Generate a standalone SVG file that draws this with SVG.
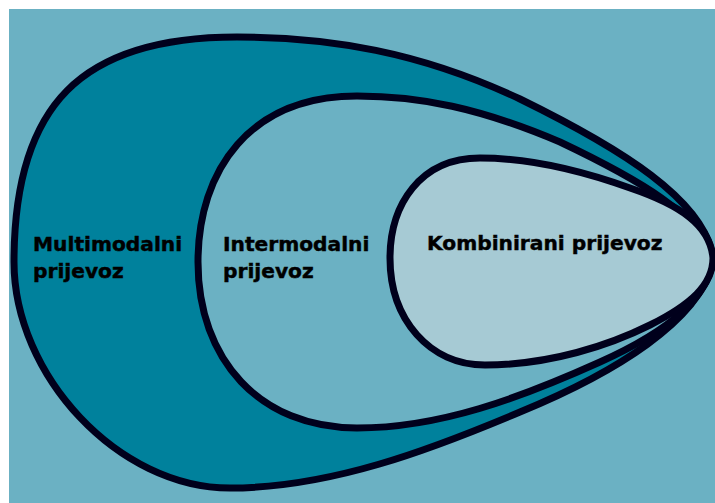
<svg xmlns="http://www.w3.org/2000/svg" width="715" height="503" viewBox="0 0 715 503">
  <style>
    .shape { stroke: #00001c; stroke-width: 7; stroke-linejoin: round; }
    .outer { fill: #00819c; }
    .middle { fill: #6bb1c3; }
    .inner { fill: #a6cad4; }
    .label { font-family: "DejaVu Sans", Verdana, sans-serif; font-weight: bold; font-size: 20.2px; fill: #000000; stroke: #000000; stroke-width: 0.45px; }
  </style>
  <rect x="0" y="0" width="715" height="503" fill="#ffffff"/>
  <rect x="9" y="9" width="706" height="494" fill="#6bb1c3"/>
  <g id="multimodalni">
    <path class="shape outer" d="M713,258 C705,200 620,148 520,99 C420,52 330,37 237,37 C81,37 14,105 14,262 C14,375 118,488 230,488 C330,488 430,450 520,412 C610,375 705,320 713,258 Z"/>
    <text class="label" x="33" y="251">Multimodalni</text>
    <text class="label" x="33" y="278">prijevoz</text>
  </g>
  <g id="intermodalni">
    <path class="shape middle" d="M713,258 C700,215 640,180 560,142 C480,108 420,96 357,96 C250,96 198,170 198,262 C198,360 260,428 357,428 C440,428 520,398 600,362 C660,335 710,300 713,258 Z"/>
    <text class="label" x="223" y="251">Intermodalni</text>
    <text class="label" x="223" y="278">prijevoz</text>
  </g>
  <g id="kombinirani">
    <path class="shape inner" d="M713,258 C710,225 680,205 630,188 C580,170 530,158 480,158 C420,158 390,205 390,258 C390,320 430,365 485,365 C550,365 610,345 650,325 C690,305 713,285 713,258 Z"/>
    <text class="label" x="427" y="250">Kombinirani prijevoz</text>
  </g>
</svg>
